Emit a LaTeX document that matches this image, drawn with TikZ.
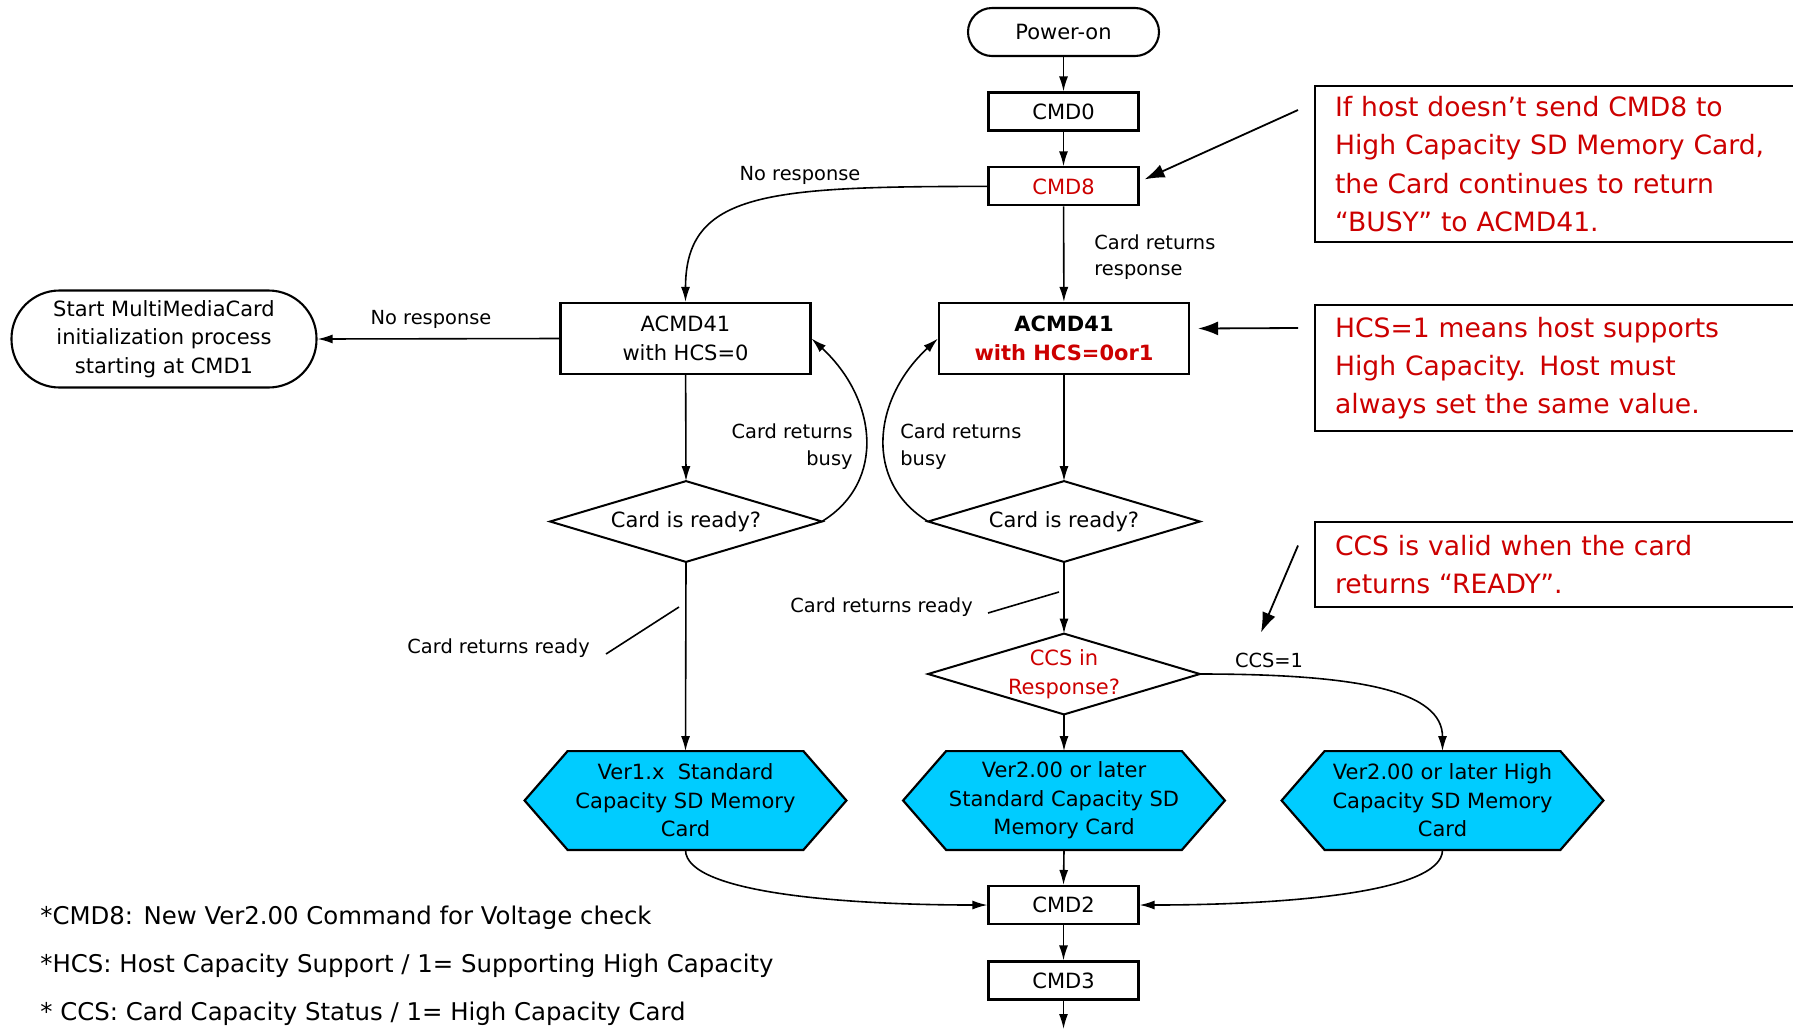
\documentclass[tikz,border=0pt]{standalone}
\usepackage{fontspec}
\setmainfont{DejaVu Sans}
\usetikzlibrary{arrows.meta,backgrounds,calc}
\definecolor{ared}{RGB}{204,0,0}
\definecolor{hexcyan}{RGB}{0,204,255}
\begin{document}
\begin{tikzpicture}[x=0.5pt,y=-0.5pt,
  boxtxt/.style={font=\fontsize{10.5}{14.3}\selectfont},
  cmdbox/.style={draw,line width=1.05pt,minimum width=75pt,minimum height=19pt,inner sep=0pt,boxtxt},
  bigbox/.style={draw,line width=1.05pt,minimum width=125pt,minimum height=35.5pt,inner sep=0pt,align=center,boxtxt},
  term/.style={draw,line width=1.05pt,inner sep=0pt,align=center,boxtxt},
  dia/.style={minimum width=135.5pt,minimum height=40pt,inner sep=0pt,align=center,boxtxt},
  hexa/.style={minimum width=160.5pt,minimum height=49pt,inner sep=0pt,align=center,boxtxt},
  lbl/.style={font=\fontsize{9.7}{13.25}\selectfont,inner sep=0pt},
  foot/.style={font=\fontsize{12.2}{16}\selectfont,inner sep=0pt,anchor=west},
  note/.style={draw,line width=1.05pt,text=ared,anchor=north west,align=left,text width=300pt,inner xsep=10pt,inner ysep=0pt,font=\fontsize{13.3}{19.15}\selectfont},
  conn/.style={-{Latex[length=7.5pt,width=4.5pt]},line width=0.8pt},
  callout/.style={-{Latex[length=10pt,width=7pt]},line width=0.9pt},
  diaedge/.style={line width=1pt,line join=miter},
  hexedge/.style={draw=black,fill=hexcyan,line width=1.1pt},
]
\useasboundingbox (0,0) rectangle (1793,1029);

% main column
\node[term,minimum width=95.5pt,minimum height=24pt,rounded corners=12pt] (pon) at (1063.5,32) {Power-on};
\node[cmdbox] (cmd0) at (1063.5,111.5) {CMD0};
\node[cmdbox,text=ared] (cmd8) at (1063.5,186.4) {CMD8};
\node[bigbox] (ar) at (1064,338.5) {\textbf{ACMD41}\\\textcolor{ared}{\textbf{with HCS=0or1}}};
\node[bigbox] (al) at (685.5,338.5) {ACMD41\\with HCS=0};
\node[term,minimum width=152.5pt,minimum height=48.5pt,rounded corners=24pt] (mmc) at (164,339) {Start MultiMediaCard\\initialization process\\starting at CMD1};

\node[dia] (dl) at (686,521.5) {Card is ready?};
\node[dia] (dr) at (1064,521.5) {Card is ready?};
\node[dia,text=ared] (ccs) at (1064,674) {CCS in\\Response?};
\foreach \d in {dl,dr,ccs}{
  \draw[diaedge] (\d.north) -- (\d.east) -- (\d.south) -- (\d.west) -- cycle;
}

\node[hexa] (h1) at (685.5,800.5) {Ver1.x\ \ Standard\\Capacity SD Memory\\Card};
\node[hexa] (h2) at (1064,800.5) {Ver2.00 or later\\Standard Capacity SD\\Memory Card};
\node[hexa] (h3) at (1442.5,800.5) {Ver2.00 or later High\\Capacity SD Memory\\Card};
\begin{scope}[on background layer]
\foreach \h in {h1,h2,h3}{
  \path[hexedge] (\h.west) -- ($(\h.north west)+(43,0)$) -- ($(\h.north east)+(-43,0)$) -- (\h.east) -- ($(\h.south east)+(-43,0)$) -- ($(\h.south west)+(43,0)$) -- cycle;
}
\end{scope}

\node[cmdbox] (cmd2) at (1063.5,905) {CMD2};
\node[cmdbox] (cmd3) at (1063.5,980.5) {CMD3};
\coordinate (bot) at (1063.5,1029);

% connectors
\draw[conn] (pon) -- (cmd0);
\draw[conn] (cmd0) -- (cmd8);
\draw[conn] (cmd8) -- (ar);
\draw[conn] (cmd8.west) .. controls +(-220,0) and +(0,-110) .. (al.north);
\draw[conn] (al.west) -- (mmc.east);
\draw[conn] (al) -- (dl.north);
\draw[conn] (ar) -- (dr.north);
\draw[conn] (dl.east) .. controls +(65,-40) and +(65,60) .. (al.east);
\draw[conn] (dr.west) .. controls +(-65,-40) and +(-65,60) .. (ar.west);
\draw[conn] (dr.south) -- (ccs.north);
\draw[conn] (dl.south) -- (h1.north);
\draw[conn] (ccs.south) -- (h2.north);
\draw[conn] (ccs.east) .. controls +(160,0) and +(0,-60) .. (h3.north);
\draw[conn] (h1.south) .. controls +(0,45) and +(-130,0) .. (cmd2.west);
\draw[conn] (h2.south) -- (cmd2.north);
\draw[conn] (h3.south) .. controls +(0,45) and +(130,0) .. (cmd2.east);
\draw[conn] (cmd2) -- (cmd3);
\draw[conn] (cmd3) -- (bot);

% labels
\node[lbl] (l1) at (800,175) {No response};
\node[lbl,anchor=west,align=left] (l2) at (1094,257) {Card returns\\response};
\node[lbl] (l3) at (431,319) {No response};
\node[lbl,anchor=east,align=right] (l4) at (853,446.6) {Card returns\\busy};
\node[lbl,anchor=west,align=left] (l5) at (900,446.6) {Card returns\\busy};
\node[lbl] (l6) at (498.6,648.4) {Card returns ready};
\node[lbl] (l7) at (881.6,607) {Card returns ready};
\node[lbl] (l8) at (1269,660) {CCS=1};
\coordinate (t1a) at (606,654); \coordinate (t1b) at (679,607);
\coordinate (t2a) at (988,613); \coordinate (t2b) at (1059,592);
\draw[line width=0.8pt] (t1a) -- (t1b);
\draw[line width=0.8pt] (t2a) -- (t2b);

% annotations
\node[note,minimum height=78.35pt] (n1) at (1314,84.6) {If host doesn’t send CMD8 to\\High Capacity SD Memory Card,\\the Card continues to return\\“BUSY” to ACMD41.};
\node[note,minimum height=63pt] (n2) at (1314,304) {HCS=1 means host supports\\High Capacity. Host must\\always set the same value.};
\node[note,minimum height=42.5pt] (n3) at (1314,521) {CCS is valid when the card\\returns “READY”.};
\coordinate (c1) at (1298,110);
\coordinate (c2) at (1298,328);
\coordinate (c3) at (1298,545.5);
\coordinate (c3e) at (1261,632.5);
\draw[callout] (c1) -- ($(cmd8.east)+(5,-7)$);
\draw[callout] (c2) -- ($(ar.east)+(8,-10)$);
\draw[callout] (c3) -- (c3e);

% footnotes
\node[foot] (f1) at (40,918) {*CMD8: New Ver2.00 Command for Voltage check};
\node[foot] (f2) at (40,966) {*HCS: Host Capacity Support / 1= Supporting High Capacity};
\node[foot] (f3) at (40,1014) {* CCS: Card Capacity Status / 1= High Capacity Card};
\end{tikzpicture}
\end{document}
